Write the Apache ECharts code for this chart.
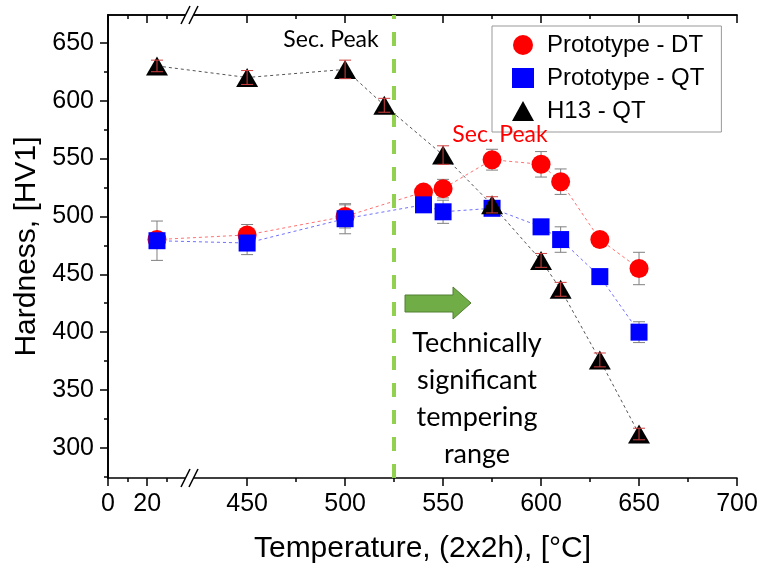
<!DOCTYPE html>
<html>
<head>
<meta charset="utf-8">
<script src="https://cdn.jsdelivr.net/npm/echarts@6/dist/echarts.min.js"></script>
<style>
  html, body { margin: 0; padding: 0; background: #fff; }
  #chart { width: 761px; height: 569px; }
</style>
</head>
<body>
<div id="chart"></div>
<script>
// temperatures (°C) and hardness (HV1); first point is room temperature
const tempDT = [25, 450, 500, 540, 550, 575, 600, 610, 630, 650];
const hardDT = [480, 484, 500, 521, 524, 549, 545, 530, 480, 455];
const errDT = [4, 9, 10, 5, 8, 9, 11, 11, 4, 14];

const tempQT = [25, 450, 500, 540, 550, 575, 600, 610, 630, 650];
const hardQT = [479, 477, 498, 510, 504, 507, 491, 480, 448, 400];
const errQT = [17, 10, 13, 6, 10, 4, 5, 11, 4, 9];

const tempH13 = [25, 450, 500, 520, 550, 575, 600, 610, 630, 650];
const hardH13 = [630, 620, 627, 596, 553, 510, 462, 437, 376, 312];
const errH13 = [5, 6, 8, 6, 8, 7, 6, 6, 6, 5];

const xMajorTicks = [0, 20, 450, 500, 550, 600, 650, 700];
const xMinorTicks = [10, 30, 475, 525, 575, 625, 675];
const yMajorTicks = [300, 350, 400, 450, 500, 550, 600, 650];
const yMinorTicks = [275, 325, 375, 425, 475, 525, 575, 625];

// broken x axis: 0..40 kept, then 450..700 shifted left
const BREAK_SHIFT = 379;
function toAxis(t) { return t <= 100 ? t : t - BREAK_SHIFT; }
function fromAxis(u) { return u <= 42 ? u : u + BREAK_SHIFT; }

const FONT = '"Liberation Sans", Arial, sans-serif';
const NOTE_FONT = 'Lato, "Open Sans", sans-serif';

function pts(ts, vs) { return ts.map((t, i) => [toAxis(t), vs[i]]); }
function bars(ts, vs, es) { return ts.map((t, i) => [toAxis(t), vs[i] - es[i], vs[i] + es[i]]); }

function errorSeries(data, color, z) {
  return {
    type: 'custom',
    xAxisIndex: 0, yAxisIndex: 0,
    z: z,
    silent: true,
    encode: { x: 0, y: [1, 2] },
    data: data,
    renderItem: function (params, api) {
      const lo = api.coord([api.value(0), api.value(1)]);
      const hi = api.coord([api.value(0), api.value(2)]);
      const w = 6;
      const st = { stroke: color, lineWidth: 1 };
      return {
        type: 'group',
        children: [
          { type: 'line', shape: { x1: lo[0], y1: lo[1], x2: hi[0], y2: hi[1] }, style: st },
          { type: 'line', shape: { x1: lo[0] - w, y1: lo[1], x2: lo[0] + w, y2: lo[1] }, style: st },
          { type: 'line', shape: { x1: hi[0] - w, y1: hi[1], x2: hi[0] + w, y2: hi[1] }, style: st }
        ]
      };
    }
  };
}

const axisLine = { show: true, lineStyle: { color: '#000', width: 1.5 } };
const X_MIN = 0, X_MAX = toAxis(700);
const Y_MIN = 274, Y_MAX = 674;

function xAx(pos, ticks, len, inside, labels) {
  return {
    type: 'value', position: pos, min: X_MIN, max: X_MAX,
    axisLine: labels || pos === 'top' ? axisLine : { show: false },
    splitLine: { show: false },
    axisTick: { show: true, inside: inside, length: len, customValues: ticks.map(toAxis), lineStyle: { color: '#000', width: 1.5 } },
    axisLabel: labels ? {
      show: true, customValues: ticks.map(toAxis), margin: 14,
      formatter: v => String(Math.round(fromAxis(v))),
      fontFamily: FONT, fontSize: 25, color: '#000'
    } : { show: false }
  };
}
function yAx(pos, ticks, len, inside, labels) {
  return {
    type: 'value', position: pos, min: Y_MIN, max: Y_MAX,
    axisLine: labels || pos === 'right' ? axisLine : { show: false },
    splitLine: { show: false },
    axisTick: { show: true, inside: inside, length: len, customValues: ticks, lineStyle: { color: '#000', width: 1.5 } },
    axisLabel: labels ? {
      show: true, customValues: ticks, margin: 14,
      fontFamily: FONT, fontSize: 25, color: '#000'
    } : { show: false }
  };
}

const xAxes = [
  xAx('bottom', xMajorTicks, 8, false, true),
  xAx('bottom', xMinorTicks, 4, false, false),
  xAx('top', xMajorTicks, 8, true, false),
  xAx('top', xMinorTicks, 4, true, false)
];
xAxes[0].name = 'Temperature, (2x2h), [°C]';
xAxes[0].nameLocation = 'middle';
xAxes[0].nameGap = 56;
xAxes[0].nameTextStyle = { fontFamily: FONT, fontSize: 30, color: '#000' };

const yAxes = [
  yAx('left', yMajorTicks, 8, false, true),
  yAx('left', yMinorTicks, 4, false, false),
  yAx('right', yMajorTicks, 8, true, false),
  yAx('right', yMinorTicks, 4, true, false)
];
yAxes[0].name = 'Hardness, [HV1]';
yAxes[0].nameLocation = 'middle';
yAxes[0].nameGap = 66;
yAxes[0].nameTextStyle = { fontFamily: FONT, fontSize: 30, color: '#000' };

const chart = echarts.init(document.getElementById('chart'), null, { renderer: 'canvas' });

function breakMark(y) {
  return [
    { type: 'rect', shape: { x: 185, y: y - 3, width: 9, height: 6 }, style: { fill: '#fff' }, z: 100 },
    { type: 'line', shape: { x1: 181, y1: y + 9, x2: 190, y2: y - 9 }, style: { stroke: '#000', lineWidth: 1.5 }, z: 101 },
    { type: 'line', shape: { x1: 189, y1: y + 9, x2: 198, y2: y - 9 }, style: { stroke: '#000', lineWidth: 1.5 }, z: 101 }
  ];
}

chart.setOption({
  animation: false,
  backgroundColor: '#fff',
  grid: { left: 108, right: 24, top: 15, bottom: 91, outerBoundsMode: 'none' },
  xAxis: xAxes,
  yAxis: yAxes,
  legend: {
    left: 492, top: 26,
    orient: 'vertical',
    backgroundColor: '#fff',
    borderColor: '#999', borderWidth: 1,
    padding: [7, 17, 9, 20],
    itemWidth: 22, itemHeight: 20, itemGap: 9,
    textStyle: { fontFamily: FONT, fontSize: 24, color: '#000', padding: [0, 0, 0, 8] },
    data: [
      { name: 'Prototype - DT', icon: 'circle' },
      { name: 'Prototype - QT', icon: 'rect' },
      { name: 'H13 - QT', icon: 'triangle' }
    ]
  },
  series: [
    errorSeries(bars(tempDT, hardDT, errDT), '#808080', 1),
    errorSeries(bars(tempQT, hardQT, errQT), '#808080', 1),
    {
      name: 'Prototype - DT', type: 'line', z: 3,
      data: pts(tempDT, hardDT),
      symbol: 'circle', symbolSize: 19,
      itemStyle: { color: '#ff0000' },
      lineStyle: { color: '#ff7070', width: 1, type: [3, 3] }
    },
    {
      name: 'Prototype - QT', type: 'line', z: 4,
      data: pts(tempQT, hardQT),
      symbol: 'rect', symbolSize: 17,
      itemStyle: { color: '#0000ff' },
      lineStyle: { color: '#7070ff', width: 1, type: [3, 3] }
    },
    {
      name: 'H13 - QT', type: 'line', z: 5,
      data: pts(tempH13, hardH13),
      symbol: 'triangle', symbolSize: [22, 19],
      itemStyle: { color: '#000' },
      lineStyle: { color: '#555', width: 1, type: [3, 3] },
      markLine: {
        silent: true, symbol: 'none', label: { show: false },
        lineStyle: { color: '#92d050', width: 4, type: [14, 13] },
        data: [{ xAxis: toAxis(525) }]
      }
    },
    errorSeries(bars(tempH13, hardH13, errH13), '#d04040', 6)
  ],
  graphic: [
    ...breakMark(478),
    ...breakMark(15),
    {
      type: 'text', x: 331, y: 40, z: 50,
      style: { text: 'Sec. Peak', fontFamily: NOTE_FONT, fontSize: 23, fill: '#000', align: 'center', verticalAlign: 'middle' }
    },
    {
      type: 'text', x: 500, y: 135, z: 50,
      style: { text: 'Sec. Peak', fontFamily: NOTE_FONT, fontSize: 23, fill: '#ff0000', align: 'center', verticalAlign: 'middle' }
    },
    {
      type: 'polygon', z: 50,
      shape: { points: [[405, 295], [453, 295], [453, 287], [471, 303], [453, 319], [453, 312], [405, 312]] },
      style: { fill: '#70ad47', stroke: '#507e32', lineWidth: 1 }
    },
    {
      type: 'text', x: 477, y: 399, z: 50,
      style: {
        text: 'Technically\nsignificant\ntempering\nrange',
        fontFamily: NOTE_FONT, fontSize: 27, lineHeight: 37, fill: '#000',
        align: 'center', verticalAlign: 'middle'
      }
    }
  ]
});
</script>
</body>
</html>
